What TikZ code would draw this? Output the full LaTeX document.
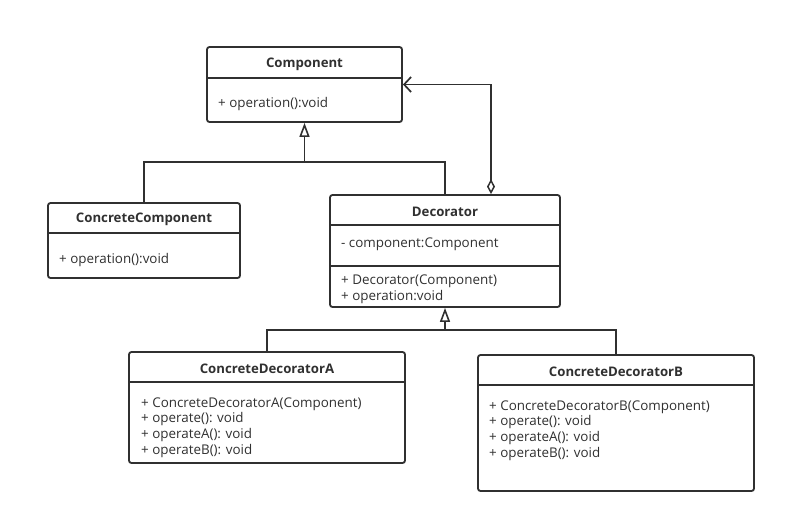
\documentclass[tikz,border=0pt]{standalone}
\usepackage{fontspec}
\setmainfont{Open Sans}
\usetikzlibrary{arrows.meta}

\definecolor{umlline}{HTML}{303030}
\tikzset{
  classbox/.style={draw=umlline, line width=1.8pt, rounded corners=2.5pt, inner sep=0pt},
  sepline/.style={draw=umlline, line width=1.5pt},
  ctitle/.style={font=\fontsize{13.2}{15}\selectfont\bfseries, text=umlline, inner sep=0pt},
  members/.style={font=\fontsize{13.4}{15.7}\selectfont, text=umlline, align=left, inner sep=0pt, anchor=west},
  link/.style={draw=umlline, line width=1.7pt},
  inherit/.style={link, -{Triangle[open, length=14pt, width=10pt, line width=1.6pt]}},
  aggregate/.style={link, {Diamond[open, length=15pt, width=8pt, line width=1.5pt]}-{Straight Barb[length=7pt, width=15pt, line width=1.7pt]}},
}

\begin{document}
\begin{tikzpicture}[x=1pt, y=-1pt]
    \useasboundingbox (0,0) rectangle (786,523);

    % class boxes
    \node[classbox, minimum width=195, minimum height=75] (component) at (304.5, 84.5) {};
    \node[classbox, minimum width=192, minimum height=75] (concrete) at (144, 240.5) {};
    \node[classbox, minimum width=230, minimum height=112] (decorator) at (445, 251) {};
    \node[classbox, minimum width=276, minimum height=111] (decoA) at (267, 407.5) {};
    \node[classbox, minimum width=276, minimum height=136] (decoB) at (616, 423) {};

    % compartments
    \draw[sepline] (component.west |- 0,78) -- (component.east |- 0,78);
    \draw[sepline] (concrete.west |- 0,233) -- (concrete.east |- 0,233);
    \draw[sepline] (decorator.west |- 0,225) -- (decorator.east |- 0,225);
    \draw[sepline] (decorator.west |- 0,266) -- (decorator.east |- 0,266);
    \draw[sepline] (decoA.west |- 0,382) -- (decoA.east |- 0,382);
    \draw[sepline] (decoB.west |- 0,385) -- (decoB.east |- 0,385);

    % titles
    \node[ctitle] (componentname) at (304.5, 64) {Component};
    \node[ctitle] (concretename) at (144, 219.5) {ConcreteComponent};
    \node[ctitle] (decoratorname) at (445, 211.5) {Decorator};
    \node[ctitle] (decoAname) at (267, 368.5) {ConcreteDecoratorA};
    \node[ctitle] (decoBname) at (616, 371.5) {ConcreteDecoratorB};

    % members
    \node[members] (componentops) at (218, 104) {+ operation():void};
    \node[members] (concreteops) at (59, 260) {+ operation():void};
    \node[members] (decoratorattr) at (341, 244) {- component:Component};
    \node[members] (decoratorops) at (341, 289) {+ Decorator(Component)\\+ operation:void};
    \node[members] (decoAops) at (141, 427.5) {+ ConcreteDecoratorA(Component)\\+ operate(): void\\+ operateA(): void\\+ operateB(): void};
    \node[members] (decoBops) at (489, 430.5) {+ ConcreteDecoratorB(Component)\\+ operate(): void\\+ operateA(): void\\+ operateB(): void};

    % generalisation to Component
    \coordinate (compjoin) at (component.south |- 0,162);
    \draw[link] (concrete.north) |- (compjoin);
    \draw[link] (decorator.north) |- (compjoin);
    \draw[inherit] (compjoin) -- (component.south);

    % aggregation Decorator -> Component
    \draw[aggregate] ([xshift=46pt]decorator.north) |- (component.east);

    % generalisation to Decorator
    \coordinate (decojoin) at (decorator.south |- 0,330);
    \draw[link] (decoA.north) |- (decojoin);
    \draw[link] (decoB.north) |- (decojoin);
    \draw[inherit] (decojoin) -- (decorator.south);

\end{tikzpicture}
\end{document}
